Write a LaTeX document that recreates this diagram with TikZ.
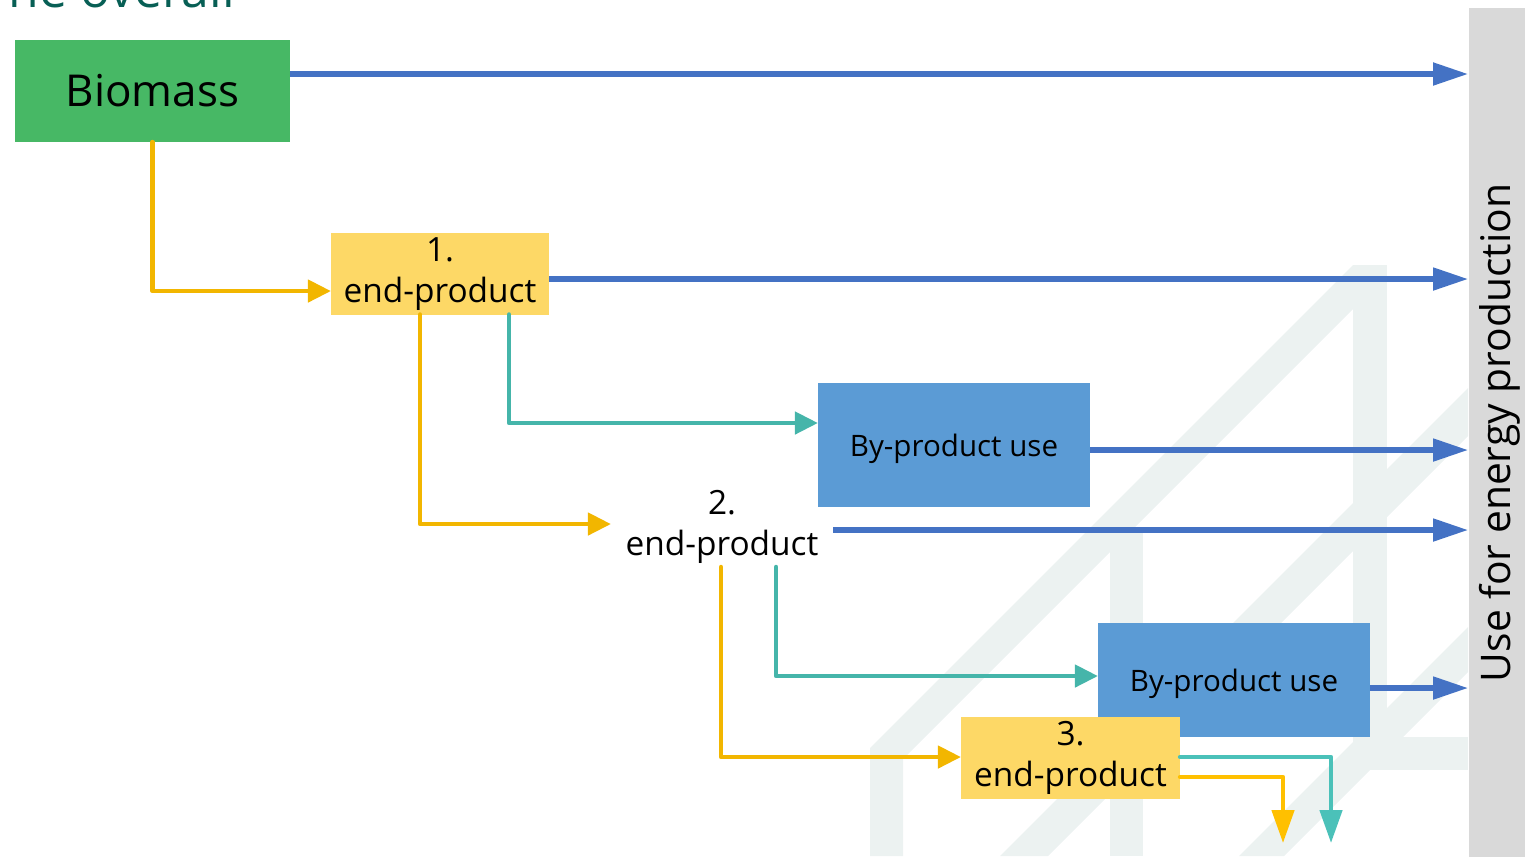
\documentclass[tikz,border=0pt]{standalone}
\usepackage{fontspec}
\setmainfont{Open Sans}
\usetikzlibrary{arrows.meta,calc}
\definecolor{bgreen}{RGB}{71,184,101}
\definecolor{ybox}{RGB}{253,216,102}
\definecolor{bbox}{RGB}{91,155,213}
\definecolor{barrow}{RGB}{68,114,196}
\definecolor{gold}{RGB}{242,182,0}
\definecolor{goldb}{RGB}{255,192,0}
\definecolor{tealc}{RGB}{69,181,170}
\definecolor{tealb}{RGB}{75,193,185}
\definecolor{bargray}{RGB}{217,217,217}
\definecolor{wm}{RGB}{236,242,241}
\definecolor{titleteal}{RGB}{8,95,85}
\begin{document}
\begin{tikzpicture}[x=0.01cm,y=-0.01cm,
  mybox/.style={inner sep=0pt, outer sep=0pt, align=center},
  efont/.style={font=\fontsize{9.5}{11.6}\selectfont},
  bfont/.style={font=\fontsize{8.4}{10}\selectfont, text depth=0pt},
  bluearr/.style={draw=barrow, line width=1.45pt, -{Triangle[length=3.5mm,width=2.2mm]}},
  goldarr/.style={draw=gold, line width=1.3pt, line cap=round, line join=round, -{Triangle[length=2.3mm,width=2.2mm]}},
  tealarr/.style={draw=tealc, line width=1.3pt, line cap=round, line join=round, -{Triangle[length=2.3mm,width=2.2mm]}},
  goldbarr/.style={draw=goldb, line width=1.3pt, line cap=round, line join=round, -{Triangle[length=3.3mm,width=2.2mm]}},
  tealbarr/.style={draw=tealb, line width=1.3pt, line cap=round, line join=round, -{Triangle[length=3.3mm,width=2.2mm]}}
]
\useasboundingbox (0,0) rectangle (1525,856);
% watermark
\fill[wm] (870,748) -- (1353,265) -- (1353,309) -- (903,759) -- (903,856) -- (870,856) -- cycle;
\fill[wm] (1353,265) rectangle (1387,770);
\fill[wm] (1110,530) rectangle (1143,856);
\fill[wm] (1000,856) -- (1468,388) -- (1468,436) -- (1048,856) -- cycle;
\fill[wm] (1239,856) -- (1468,627) -- (1468,672) -- (1284,856) -- cycle;
\fill[wm] (1353,737) rectangle (1468,770);
% cropped title
\begin{scope}
\clip (0,0) rectangle (1525,856);
\node[anchor=base west, inner sep=0pt, text=titleteal, font=\fontsize{14.2}{16}\selectfont] (title) at (8,7.5) {ne overall};
\end{scope}
% side bar
\node[fill=bargray, inner sep=0pt, minimum width=0.57cm, minimum height=8.49cm, anchor=north west] (bar) at (1468,7) {};
\node[rotate=90, inner sep=0pt, font=\fontsize{11.6}{13}\selectfont] (bartext) at (1500,433) {Use for energy production};
% nodes
\node[mybox, fill=bgreen, minimum width=2.75cm, minimum height=1.02cm, font=\fontsize{12.5}{15}\selectfont] (bio) at (152.5,91) {Biomass};
\node[mybox, efont, fill=ybox, minimum width=2.18cm, minimum height=0.81cm] (e1) at (440,274) {1.\\end-product};
\node[mybox, efont, minimum width=2.22cm, minimum height=0.8cm] (e2) at (722,527) {2.\\end-product};
\node[mybox, bfont, fill=bbox, minimum width=2.72cm, minimum height=1.24cm] (bp1) at (954,445) {By-product use};
\node[mybox, bfont, fill=bbox, minimum width=2.72cm, minimum height=1.14cm] (bp2) at (1234,680) {By-product use};
\node[mybox, efont, fill=ybox, minimum width=2.19cm, minimum height=0.82cm] (e3) at (1070.5,758) {3.\\end-product};
\coordinate (t3) at (1331,843);
\coordinate (g3) at (1283,843);
% blue arrows to energy production
\draw[bluearr] ([yshift=0.17cm]bio.east) -- ([yshift=0.17cm]bio.east -| bar.west);
\draw[bluearr] ([yshift=-0.05cm]e1.east) -- ([yshift=-0.05cm]e1.east -| bar.west);
\draw[bluearr] ([yshift=-0.05cm]bp1.east) -- ([yshift=-0.05cm]bp1.east -| bar.west);
\draw[bluearr] ([yshift=-0.03cm]e2.east) -- ([yshift=-0.03cm]e2.east -| bar.west);
\draw[bluearr] ([yshift=-0.08cm]bp2.east) -- ([yshift=-0.08cm]bp2.east -| bar.west);
% product chain
\draw[goldarr] (bio.south) |- ([yshift=-0.17cm]e1.west);
\draw[tealarr] ([xshift=0.69cm]e1.south) |- ([yshift=0.22cm]bp1.west);
\draw[goldarr] ([xshift=-0.2cm]e1.south) |- ([yshift=0.03cm]e2.west);
\draw[tealarr] ([xshift=0.54cm]e2.south) |- ([yshift=0.04cm]bp2.west);
\draw[goldarr] ([xshift=-0.01cm]e2.south) |- ([yshift=0.01cm]e3.west);
\draw[tealbarr] ([yshift=0.01cm]e3.east) -| (t3);
\draw[goldbarr] ([yshift=-0.19cm]e3.east) -| (g3);
\end{tikzpicture}
\end{document}
